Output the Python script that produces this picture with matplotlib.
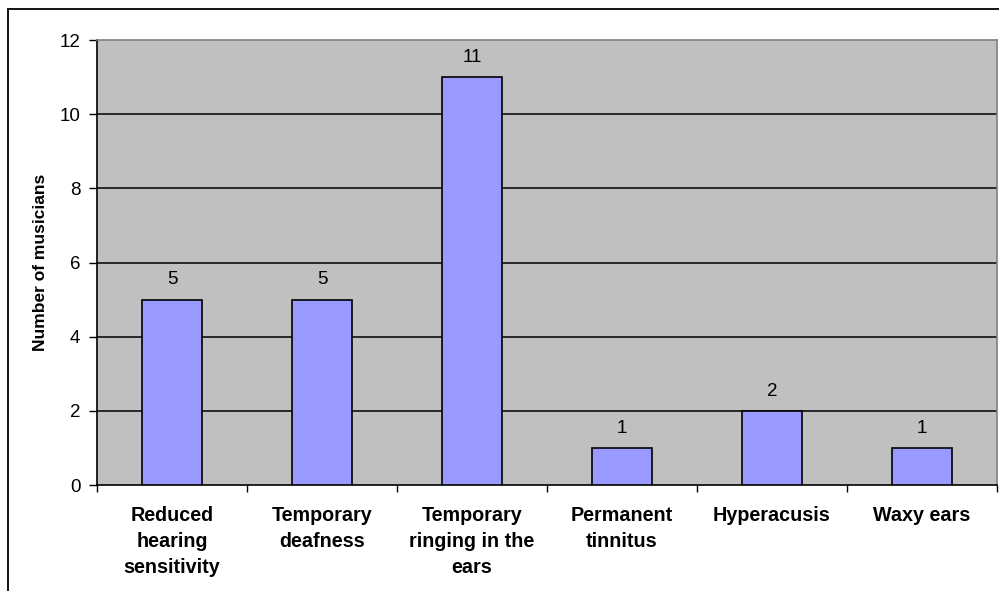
import matplotlib
matplotlib.use("Agg")
import matplotlib.pyplot as plt
from matplotlib.patches import Rectangle
import numpy as np

categories = ["Reduced\nhearing\nsensitivity", "Temporary\ndeafness",
              "Temporary\nringing in the\nears", "Permanent\ntinnitus",
              "Hyperacusis", "Waxy ears"]
values = [5, 5, 11, 1, 2, 1]
yticks = [0, 2, 4, 6, 8, 10, 12]
ylabel = "Number of musicians"

plt.rcParams['font.family'] = ['Liberation Sans', 'DejaVu Sans']

W, H = 999, 591
fig = plt.figure(figsize=(W / 100, H / 100), dpi=100)
fig.patch.set_facecolor('white')

# outer chart frame (cropped on right/bottom)
fig.add_artist(Rectangle((8 / W, -0.1), 1.2, (H - 9) / H + 0.1, transform=fig.transFigure,
                         fill=False, edgecolor='black', linewidth=1.3))

left, right, top, bottom = 97, 997, 40, 485
ax = fig.add_axes([left / W, 1 - bottom / H, (right - left) / W, (bottom - top) / H])
ax.set_facecolor('#C0C0C0')

x = np.arange(len(categories))
ax.bar(x, values, width=0.4, color='#9999FF', edgecolor='black', linewidth=1.2, zorder=3)
for xi, v in zip(x, values):
    ax.text(xi, v + 0.3, str(v), ha='center', va='bottom', fontsize=13.5, zorder=4)

ax.set_xlim(-0.5, len(categories) - 0.5)
ax.set_ylim(0, 12)
ax.set_yticks(yticks)
ax.set_yticklabels([str(t) for t in yticks], fontsize=13.5)
for t in yticks[1:-1]:
    ax.axhline(t, color='black', linewidth=1.1, zorder=1)

ax.set_xticks(np.arange(-0.5, len(categories), 1))
ax.set_xticklabels([])
ax.set_xticks(x, minor=True)
ax.set_xticklabels(categories, minor=True, fontsize=14.2, fontweight='bold', linespacing=1.47)
ax.tick_params(axis='x', which='minor', length=0, pad=15)
ax.tick_params(axis='x', which='major', length=5, width=1, direction='out')
ax.tick_params(axis='y', length=6, width=1, direction='out', pad=6)

ax.set_ylabel(ylabel, fontsize=12.5, fontweight='bold', labelpad=8)

ax.spines['top'].set_color('#808080')
ax.spines['right'].set_color('#808080')
ax.spines['left'].set_color('black')
ax.spines['bottom'].set_color('black')
for s in ax.spines.values():
    s.set_linewidth(1.2)

fig.savefig('out.png', dpi=100)
